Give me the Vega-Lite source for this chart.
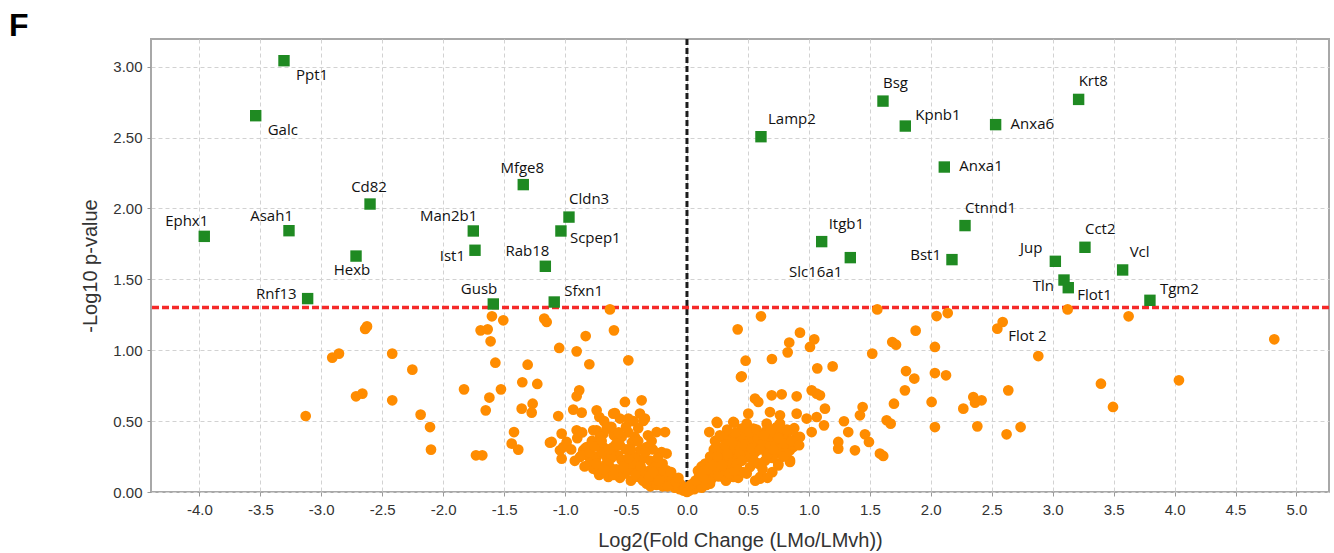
{
  "$schema": "https://vega.github.io/schema/vega-lite/v6.json",
  "width": 1178,
  "height": 453,
  "autosize": {"type": "none"},
  "padding": {"left": 151, "top": 39, "right": 5, "bottom": 61},
  "background": "white",
  "title": {"text": "F", "anchor": "start", "frame": "group", "font": "Liberation Sans", "fontSize": 32, "fontWeight": "bold", "color": "#000", "dx": -142, "dy": 33, "offset": 3, "baseline": "alphabetic"},
  "config": {
    "view": {"stroke": "#a8a8a8", "strokeWidth": 2},
    "axis": {"domain": false, "gridColor": "#d2d2d2", "gridDash": [4, 3], "gridWidth": 1, "tickColor": "#999", "tickSize": 4, "labelFont": "Liberation Sans", "labelFontSize": 15, "labelColor": "#333", "titleFont": "Liberation Sans", "titleFontSize": 20, "titleFontWeight": "normal", "titleColor": "#333"}
  },
  "datasets": {
    "sig": [
      {"gene": "Ppt1", "lfc": -3.306, "nlp": 3.042},
      {"gene": "Galc", "lfc": -3.538, "nlp": 2.654},
      {"gene": "Cd82", "lfc": -2.600, "nlp": 2.031},
      {"gene": "Ephx1", "lfc": -3.960, "nlp": 1.803},
      {"gene": "Asah1", "lfc": -3.265, "nlp": 1.843},
      {"gene": "Hexb", "lfc": -2.715, "nlp": 1.664},
      {"gene": "Rnf13", "lfc": -3.112, "nlp": 1.364},
      {"gene": "Man2b1", "lfc": -1.753, "nlp": 1.841},
      {"gene": "Ist1", "lfc": -1.739, "nlp": 1.705},
      {"gene": "Mfge8", "lfc": -1.343, "nlp": 2.168},
      {"gene": "Cldn3", "lfc": -0.968, "nlp": 1.939},
      {"gene": "Scpep1", "lfc": -1.034, "nlp": 1.841},
      {"gene": "Rab18", "lfc": -1.162, "nlp": 1.592},
      {"gene": "Gusb", "lfc": -1.589, "nlp": 1.326},
      {"gene": "Sfxn1", "lfc": -1.089, "nlp": 1.340},
      {"gene": "Lamp2", "lfc": 0.607, "nlp": 2.506},
      {"gene": "Itgb1", "lfc": 1.105, "nlp": 1.766},
      {"gene": "Slc16a1", "lfc": 1.340, "nlp": 1.653},
      {"gene": "Bsg", "lfc": 1.608, "nlp": 2.757},
      {"gene": "Kpnb1", "lfc": 1.791, "nlp": 2.581},
      {"gene": "Anxa1", "lfc": 2.111, "nlp": 2.292},
      {"gene": "Anxa6", "lfc": 2.532, "nlp": 2.591},
      {"gene": "Krt8", "lfc": 3.213, "nlp": 2.769},
      {"gene": "Ctnnd1", "lfc": 2.281, "nlp": 1.879},
      {"gene": "Bst1", "lfc": 2.174, "nlp": 1.639},
      {"gene": "Jup", "lfc": 3.022, "nlp": 1.627},
      {"gene": "Cct2", "lfc": 3.265, "nlp": 1.726},
      {"gene": "Vcl", "lfc": 3.574, "nlp": 1.566},
      {"gene": "Tln", "lfc": 3.093, "nlp": 1.495},
      {"gene": "Flot1", "lfc": 3.128, "nlp": 1.441},
      {"gene": "Tgm2", "lfc": 3.798, "nlp": 1.352}
    ],
    "ns": [
      {"lfc": -3.128, "nlp": 0.536}, {"lfc": -2.910, "nlp": 0.948}, {"lfc": -2.855, "nlp": 0.976}, {"lfc": -2.640, "nlp": 1.150}, {"lfc": -2.625, "nlp": 1.168},
      {"lfc": -2.418, "nlp": 0.976}, {"lfc": -2.253, "nlp": 0.863}, {"lfc": -2.715, "nlp": 0.675}, {"lfc": -2.663, "nlp": 0.694}, {"lfc": -2.418, "nlp": 0.647},
      {"lfc": -2.185, "nlp": 0.546}, {"lfc": -2.108, "nlp": 0.458}, {"lfc": -2.100, "nlp": 0.299}, {"lfc": -1.829, "nlp": 0.724}, {"lfc": -1.731, "nlp": 0.259},
      {"lfc": -1.679, "nlp": 0.259}, {"lfc": -1.693, "nlp": 1.140}, {"lfc": -1.635, "nlp": 1.147}, {"lfc": -1.600, "nlp": 1.239}, {"lfc": -1.507, "nlp": 1.211},
      {"lfc": -1.611, "nlp": 1.063}, {"lfc": -1.572, "nlp": 0.912}, {"lfc": -1.621, "nlp": 0.666}, {"lfc": -1.651, "nlp": 0.576}, {"lfc": -1.526, "nlp": 0.724},
      {"lfc": -1.351, "nlp": 0.774}, {"lfc": -1.307, "nlp": 0.898}, {"lfc": -1.228, "nlp": 0.762}, {"lfc": -1.356, "nlp": 0.588}, {"lfc": -1.266, "nlp": 0.623},
      {"lfc": -1.274, "nlp": 0.560}, {"lfc": -1.419, "nlp": 0.423}, {"lfc": -1.438, "nlp": 0.341}, {"lfc": -1.384, "nlp": 0.299}, {"lfc": -1.171, "nlp": 1.223},
      {"lfc": -1.151, "nlp": 1.199}, {"lfc": -1.048, "nlp": 1.016}, {"lfc": -1.056, "nlp": 0.536}, {"lfc": -1.124, "nlp": 0.348}, {"lfc": -0.831, "nlp": 1.100},
      {"lfc": -0.905, "nlp": 0.992}, {"lfc": -0.801, "nlp": 0.901}, {"lfc": -0.632, "nlp": 1.288}, {"lfc": -0.599, "nlp": 1.140}, {"lfc": -0.481, "nlp": 0.929},
      {"lfc": -0.884, "nlp": 0.717}, {"lfc": -0.905, "nlp": 0.675}, {"lfc": -0.933, "nlp": 0.581}, {"lfc": -0.864, "nlp": 0.560}, {"lfc": -1.028, "nlp": 0.412},
      {"lfc": -1.015, "nlp": 0.317}, {"lfc": -1.028, "nlp": 0.235}, {"lfc": -1.110, "nlp": 0.353}, {"lfc": -0.987, "nlp": 0.353}, {"lfc": -1.042, "nlp": 0.294},
      {"lfc": -0.741, "nlp": 0.576}, {"lfc": -0.719, "nlp": 0.529}, {"lfc": -0.741, "nlp": 0.435}, {"lfc": -0.686, "nlp": 0.412}, {"lfc": -0.659, "nlp": 0.447},
      {"lfc": -0.605, "nlp": 0.553}, {"lfc": -0.550, "nlp": 0.518}, {"lfc": -0.509, "nlp": 0.635}, {"lfc": -0.481, "nlp": 0.518}, {"lfc": -0.372, "nlp": 0.647},
      {"lfc": -0.345, "nlp": 0.518}, {"lfc": -0.386, "nlp": 0.553}, {"lfc": -0.591, "nlp": 0.557}, {"lfc": -0.358, "nlp": 0.501}, {"lfc": -0.249, "nlp": 0.423},
      {"lfc": -0.180, "nlp": 0.423}, {"lfc": -0.208, "nlp": 0.282}, {"lfc": -0.167, "nlp": 0.271}, {"lfc": -0.851, "nlp": 0.294}, {"lfc": -0.823, "nlp": 0.259},
      {"lfc": -0.769, "nlp": 0.247}, {"lfc": -0.741, "nlp": 0.153}, {"lfc": -0.905, "nlp": 0.435}, {"lfc": -0.878, "nlp": 0.247}, {"lfc": -0.837, "nlp": 0.306},
      {"lfc": -0.769, "nlp": 0.435}, {"lfc": -0.714, "nlp": 0.388}, {"lfc": -0.823, "nlp": 0.317}, {"lfc": -0.864, "nlp": 0.259}, {"lfc": -0.741, "nlp": 0.247},
      {"lfc": -0.769, "nlp": 0.165}, {"lfc": -0.645, "nlp": 0.106}, {"lfc": -0.632, "nlp": 0.176}, {"lfc": -0.605, "nlp": 0.294}, {"lfc": -0.536, "nlp": 0.388},
      {"lfc": -0.468, "nlp": 0.294}, {"lfc": -0.523, "nlp": 0.224}, {"lfc": -0.454, "nlp": 0.153}, {"lfc": -0.399, "nlp": 0.106}, {"lfc": -0.331, "nlp": 0.059},
      {"lfc": -0.386, "nlp": 0.200}, {"lfc": -0.331, "nlp": 0.317}, {"lfc": -0.304, "nlp": 0.153}, {"lfc": -0.249, "nlp": 0.106}, {"lfc": -0.221, "nlp": 0.176},
      {"lfc": -0.167, "nlp": 0.153}, {"lfc": -0.167, "nlp": 0.082}, {"lfc": -0.112, "nlp": 0.047}, {"lfc": -0.057, "nlp": 0.035}, {"lfc": -0.427, "nlp": 0.388},
      {"lfc": -0.687, "nlp": 0.317}, {"lfc": -0.564, "nlp": 0.259}, {"lfc": -0.509, "nlp": 0.130}, {"lfc": -0.659, "nlp": 0.247}, {"lfc": -0.605, "nlp": 0.317},
      {"lfc": -0.536, "nlp": 0.224}, {"lfc": -0.440, "nlp": 0.176}, {"lfc": -0.386, "nlp": 0.141}, {"lfc": -0.304, "nlp": 0.106}, {"lfc": -0.249, "nlp": 0.153},
      {"lfc": -0.167, "nlp": 0.118}, {"lfc": -0.112, "nlp": 0.082}, {"lfc": -0.057, "nlp": 0.059},
      {"lfc": -0.60, "nlp": 0.40}, {"lfc": -0.55, "nlp": 0.33}, {"lfc": -0.50, "nlp": 0.30}, {"lfc": -0.45, "nlp": 0.35}, {"lfc": -0.42, "nlp": 0.25},
      {"lfc": -0.38, "nlp": 0.30}, {"lfc": -0.35, "nlp": 0.24}, {"lfc": -0.30, "nlp": 0.22}, {"lfc": -0.28, "nlp": 0.30}, {"lfc": -0.26, "nlp": 0.18},
      {"lfc": -0.24, "nlp": 0.24}, {"lfc": -0.22, "nlp": 0.12}, {"lfc": -0.20, "nlp": 0.20}, {"lfc": -0.18, "nlp": 0.10}, {"lfc": -0.15, "nlp": 0.12},
      {"lfc": -0.14, "nlp": 0.06}, {"lfc": -0.12, "nlp": 0.09}, {"lfc": -0.10, "nlp": 0.03}, {"lfc": -0.08, "nlp": 0.05}, {"lfc": -0.06, "nlp": 0.02},
      {"lfc": -0.04, "nlp": 0.04}, {"lfc": -0.03, "nlp": 0.01}, {"lfc": -0.02, "nlp": 0.02}, {"lfc": 0.00, "nlp": 0.00}, {"lfc": -0.46, "nlp": 0.08},
      {"lfc": -0.42, "nlp": 0.12}, {"lfc": -0.36, "nlp": 0.08}, {"lfc": -0.34, "nlp": 0.14}, {"lfc": -0.30, "nlp": 0.04}, {"lfc": -0.27, "nlp": 0.07},
      {"lfc": -0.25, "nlp": 0.05}, {"lfc": -0.20, "nlp": 0.04}, {"lfc": -0.45, "nlp": 0.20}, {"lfc": -0.48, "nlp": 0.42}, {"lfc": -0.40, "nlp": 0.45},
      {"lfc": -0.32, "nlp": 0.40}, {"lfc": -0.29, "nlp": 0.36}, {"lfc": -0.62, "nlp": 0.24}, {"lfc": -0.66, "nlp": 0.20}, {"lfc": -0.58, "nlp": 0.16},
      {"lfc": -0.55, "nlp": 0.10}, {"lfc": -0.70, "nlp": 0.28}, {"lfc": -0.78, "nlp": 0.36}, {"lfc": -0.80, "nlp": 0.20}, {"lfc": -0.72, "nlp": 0.12},
      {"lfc": -0.50, "nlp": 0.46}, {"lfc": -0.44, "nlp": 0.50}, {"lfc": -0.62, "nlp": 0.46}, {"lfc": -0.68, "nlp": 0.50},
      {"lfc": -0.95, "nlp": 0.30}, {"lfc": -0.92, "nlp": 0.22}, {"lfc": -0.90, "nlp": 0.38}, {"lfc": -0.86, "nlp": 0.42}, {"lfc": -0.84, "nlp": 0.18},
      {"lfc": -0.80, "nlp": 0.28}, {"lfc": -0.76, "nlp": 0.32}, {"lfc": -0.74, "nlp": 0.20}, {"lfc": -0.70, "nlp": 0.36}, {"lfc": -0.68, "nlp": 0.16},
      {"lfc": -0.64, "nlp": 0.30}, {"lfc": -0.60, "nlp": 0.12}, {"lfc": -0.58, "nlp": 0.34}, {"lfc": -0.56, "nlp": 0.42}, {"lfc": -0.52, "nlp": 0.18},
      {"lfc": -0.48, "nlp": 0.24}, {"lfc": -0.46, "nlp": 0.30}, {"lfc": -0.40, "nlp": 0.36}, {"lfc": -0.38, "nlp": 0.18}, {"lfc": -0.34, "nlp": 0.28},
      {"lfc": -0.31, "nlp": 0.11}, {"lfc": -0.28, "nlp": 0.14}, {"lfc": -0.23, "nlp": 0.08}, {"lfc": -0.19, "nlp": 0.15}, {"lfc": -0.16, "nlp": 0.04},
      {"lfc": -0.13, "nlp": 0.14}, {"lfc": -0.09, "nlp": 0.07}, {"lfc": -0.07, "nlp": 0.10},
      {"lfc": 0.449, "nlp": 0.816}, {"lfc": 0.558, "nlp": 0.659}, {"lfc": 0.585, "nlp": 0.635}, {"lfc": 0.695, "nlp": 0.682}, {"lfc": 0.777, "nlp": 0.689},
      {"lfc": 0.900, "nlp": 0.675}, {"lfc": 1.023, "nlp": 0.717}, {"lfc": 1.064, "nlp": 0.694}, {"lfc": 1.091, "nlp": 0.682}, {"lfc": 0.244, "nlp": 0.494},
      {"lfc": 0.380, "nlp": 0.494}, {"lfc": 0.183, "nlp": 0.423}, {"lfc": 0.503, "nlp": 0.553}, {"lfc": 0.490, "nlp": 0.482}, {"lfc": 0.681, "nlp": 0.564},
      {"lfc": 0.763, "nlp": 0.541}, {"lfc": 0.900, "nlp": 0.553}, {"lfc": 0.982, "nlp": 0.518}, {"lfc": 1.064, "nlp": 0.529}, {"lfc": 1.023, "nlp": 0.423},
      {"lfc": 0.900, "nlp": 0.388}, {"lfc": 0.845, "nlp": 0.294}, {"lfc": 0.845, "nlp": 0.224}, {"lfc": 0.749, "nlp": 0.188}, {"lfc": 0.599, "nlp": 0.094},
      {"lfc": 0.599, "nlp": 0.200}, {"lfc": 0.607, "nlp": 1.239}, {"lfc": 0.416, "nlp": 1.147}, {"lfc": 0.481, "nlp": 0.926}, {"lfc": 0.443, "nlp": 0.811},
      {"lfc": 0.697, "nlp": 0.938}, {"lfc": 0.826, "nlp": 0.985}, {"lfc": 0.839, "nlp": 1.054}, {"lfc": 0.927, "nlp": 1.124}, {"lfc": 1.009, "nlp": 1.023},
      {"lfc": 1.044, "nlp": 1.077}, {"lfc": 1.069, "nlp": 0.872}, {"lfc": 1.195, "nlp": 0.886}, {"lfc": 1.132, "nlp": 0.588}, {"lfc": 1.124, "nlp": 0.470},
      {"lfc": 1.561, "nlp": 1.288}, {"lfc": 1.520, "nlp": 0.976}, {"lfc": 1.684, "nlp": 1.058}, {"lfc": 1.715, "nlp": 1.039}, {"lfc": 1.876, "nlp": 1.138},
      {"lfc": 1.797, "nlp": 0.853}, {"lfc": 1.865, "nlp": 0.800}, {"lfc": 1.788, "nlp": 0.717}, {"lfc": 1.698, "nlp": 0.623}, {"lfc": 1.638, "nlp": 0.506},
      {"lfc": 1.671, "nlp": 0.482}, {"lfc": 1.441, "nlp": 0.599}, {"lfc": 1.419, "nlp": 0.541}, {"lfc": 1.288, "nlp": 0.499}, {"lfc": 1.323, "nlp": 0.423},
      {"lfc": 1.241, "nlp": 0.353}, {"lfc": 1.241, "nlp": 0.306}, {"lfc": 1.378, "nlp": 0.294}, {"lfc": 1.460, "nlp": 0.407}, {"lfc": 1.493, "nlp": 0.353},
      {"lfc": 1.583, "nlp": 0.271}, {"lfc": 1.610, "nlp": 0.254}, {"lfc": 2.048, "nlp": 1.241}, {"lfc": 2.139, "nlp": 1.262}, {"lfc": 2.034, "nlp": 1.023},
      {"lfc": 2.034, "nlp": 0.839}, {"lfc": 2.125, "nlp": 0.823}, {"lfc": 2.007, "nlp": 0.635}, {"lfc": 2.034, "nlp": 0.458}, {"lfc": 2.267, "nlp": 0.588},
      {"lfc": 2.349, "nlp": 0.670}, {"lfc": 2.363, "nlp": 0.630}, {"lfc": 2.417, "nlp": 0.647}, {"lfc": 2.382, "nlp": 0.463}, {"gene": "Flot 2", "lfc": 2.546, "nlp": 1.152},
      {"lfc": 2.590, "nlp": 1.199}, {"lfc": 2.636, "nlp": 0.717}, {"lfc": 2.622, "nlp": 0.407}, {"lfc": 2.737, "nlp": 0.458}, {"lfc": 2.882, "nlp": 0.959},
      {"lfc": 3.123, "nlp": 1.288}, {"lfc": 3.623, "nlp": 1.239}, {"lfc": 3.396, "nlp": 0.764}, {"lfc": 3.495, "nlp": 0.600}, {"lfc": 4.036, "nlp": 0.788},
      {"lfc": 4.818, "nlp": 1.077},
      {"lfc": 0.052, "nlp": 0.059}, {"lfc": 0.107, "nlp": 0.082}, {"lfc": 0.161, "nlp": 0.106}, {"lfc": 0.189, "nlp": 0.176}, {"lfc": 0.216, "nlp": 0.247},
      {"lfc": 0.244, "nlp": 0.317}, {"lfc": 0.271, "nlp": 0.153}, {"lfc": 0.326, "nlp": 0.224}, {"lfc": 0.353, "nlp": 0.317}, {"lfc": 0.408, "nlp": 0.365},
      {"lfc": 0.408, "nlp": 0.176}, {"lfc": 0.462, "nlp": 0.271}, {"lfc": 0.490, "nlp": 0.388}, {"lfc": 0.517, "nlp": 0.176}, {"lfc": 0.572, "nlp": 0.317},
      {"lfc": 0.599, "nlp": 0.412}, {"lfc": 0.654, "nlp": 0.271}, {"lfc": 0.708, "nlp": 0.365}, {"lfc": 0.736, "nlp": 0.458}, {"lfc": 0.818, "nlp": 0.388},
      {"lfc": 0.736, "nlp": 0.271}, {"lfc": 0.298, "nlp": 0.106}, {"lfc": 0.189, "nlp": 0.059}, {"lfc": 0.380, "nlp": 0.106}, {"lfc": 0.490, "nlp": 0.130},
      {"lfc": 0.134, "nlp": 0.153}, {"lfc": 0.544, "nlp": 0.447}, {"lfc": 0.449, "nlp": 0.447}, {"lfc": 0.654, "nlp": 0.482}, {"lfc": 0.872, "nlp": 0.317},
      {"lfc": 0.927, "nlp": 0.388}, {"lfc": 0.544, "nlp": 0.412}, {"lfc": 0.654, "nlp": 0.435}, {"lfc": 0.763, "nlp": 0.482}, {"lfc": 0.790, "nlp": 0.412},
      {"lfc": 0.845, "nlp": 0.435}, {"lfc": 0.681, "nlp": 0.282}, {"lfc": 0.749, "nlp": 0.200}, {"lfc": 0.845, "nlp": 0.212}, {"lfc": 0.818, "nlp": 0.271},
      {"lfc": 0.599, "nlp": 0.106}, {"lfc": 0.585, "nlp": 0.200}, {"lfc": 0.490, "nlp": 0.247}, {"lfc": 0.249, "nlp": 0.487}, {"lfc": 0.386, "nlp": 0.489},
      {"lfc": 0.02, "nlp": 0.01}, {"lfc": 0.04, "nlp": 0.03}, {"lfc": 0.06, "nlp": 0.02}, {"lfc": 0.08, "nlp": 0.04}, {"lfc": 0.10, "nlp": 0.06},
      {"lfc": 0.12, "nlp": 0.03}, {"lfc": 0.14, "nlp": 0.08}, {"lfc": 0.16, "nlp": 0.05}, {"lfc": 0.18, "nlp": 0.12}, {"lfc": 0.20, "nlp": 0.09},
      {"lfc": 0.22, "nlp": 0.14}, {"lfc": 0.24, "nlp": 0.20}, {"lfc": 0.26, "nlp": 0.11}, {"lfc": 0.28, "nlp": 0.24}, {"lfc": 0.30, "nlp": 0.28},
      {"lfc": 0.32, "nlp": 0.15}, {"lfc": 0.34, "nlp": 0.20}, {"lfc": 0.36, "nlp": 0.26}, {"lfc": 0.38, "nlp": 0.22}, {"lfc": 0.40, "nlp": 0.30},
      {"lfc": 0.42, "nlp": 0.24}, {"lfc": 0.44, "nlp": 0.33}, {"lfc": 0.46, "nlp": 0.38}, {"lfc": 0.48, "nlp": 0.30}, {"lfc": 0.50, "nlp": 0.34},
      {"lfc": 0.52, "nlp": 0.26}, {"lfc": 0.54, "nlp": 0.36}, {"lfc": 0.56, "nlp": 0.28}, {"lfc": 0.58, "nlp": 0.38}, {"lfc": 0.62, "nlp": 0.34},
      {"lfc": 0.64, "nlp": 0.22}, {"lfc": 0.66, "nlp": 0.38}, {"lfc": 0.68, "nlp": 0.32}, {"lfc": 0.70, "nlp": 0.24}, {"lfc": 0.72, "nlp": 0.42},
      {"lfc": 0.74, "nlp": 0.34}, {"lfc": 0.76, "nlp": 0.30}, {"lfc": 0.78, "nlp": 0.44}, {"lfc": 0.80, "nlp": 0.34}, {"lfc": 0.86, "nlp": 0.36},
      {"lfc": 0.88, "nlp": 0.45}, {"lfc": 0.36, "nlp": 0.40}, {"lfc": 0.30, "nlp": 0.38}, {"lfc": 0.26, "nlp": 0.30}, {"lfc": 0.22, "nlp": 0.30},
      {"lfc": 0.12, "nlp": 0.18}, {"lfc": 0.10, "nlp": 0.12}, {"lfc": 0.32, "nlp": 0.08}, {"lfc": 0.42, "nlp": 0.10}, {"lfc": 0.46, "nlp": 0.14},
      {"lfc": 0.70, "nlp": 0.14}, {"lfc": 0.66, "nlp": 0.10}, {"lfc": 0.56, "nlp": 0.08}, {"lfc": 0.62, "nlp": 0.16}, {"lfc": 0.40, "nlp": 0.42},
      {"lfc": 0.33, "nlp": 0.44},
      {"lfc": 0.03, "nlp": 0.05}, {"lfc": 0.07, "nlp": 0.08}, {"lfc": 0.09, "nlp": 0.15}, {"lfc": 0.13, "nlp": 0.11}, {"lfc": 0.15, "nlp": 0.20},
      {"lfc": 0.17, "nlp": 0.16}, {"lfc": 0.19, "nlp": 0.25}, {"lfc": 0.21, "nlp": 0.19}, {"lfc": 0.23, "nlp": 0.36}, {"lfc": 0.25, "nlp": 0.25},
      {"lfc": 0.27, "nlp": 0.40}, {"lfc": 0.29, "nlp": 0.19}, {"lfc": 0.31, "nlp": 0.33}, {"lfc": 0.33, "nlp": 0.27}, {"lfc": 0.35, "nlp": 0.13},
      {"lfc": 0.37, "nlp": 0.35}, {"lfc": 0.39, "nlp": 0.15}, {"lfc": 0.41, "nlp": 0.20}, {"lfc": 0.43, "nlp": 0.28}, {"lfc": 0.45, "nlp": 0.22},
      {"lfc": 0.47, "nlp": 0.33}, {"lfc": 0.51, "nlp": 0.42}, {"lfc": 0.53, "nlp": 0.31}, {"lfc": 0.55, "nlp": 0.22}, {"lfc": 0.57, "nlp": 0.44},
      {"lfc": 0.60, "nlp": 0.30}, {"lfc": 0.63, "nlp": 0.40}, {"lfc": 0.67, "nlp": 0.27}, {"lfc": 0.69, "nlp": 0.44}, {"lfc": 0.71, "nlp": 0.30},
      {"lfc": 0.75, "nlp": 0.38}, {"lfc": 0.79, "nlp": 0.25}, {"lfc": 0.82, "nlp": 0.44}, {"lfc": 0.92, "nlp": 0.33}
    ]
  },
  "layer": [
    {
      "data": {"values": [{"lfc": 0}]},
      "mark": {"type": "rule", "color": "#1c1c1c", "strokeWidth": 3, "strokeDash": [6, 3]},
      "encoding": {"x": {"field": "lfc", "type": "quantitative", "scale": {"domain": [-4.397, 5.267], "nice": false, "zero": false}}}
    },
    {
      "data": {"values": [{"nlp": 1.301}]},
      "mark": {"type": "rule", "color": "#f52a2a", "strokeWidth": 3.5, "strokeDash": [7, 3]},
      "encoding": {"y": {"field": "nlp", "type": "quantitative", "scale": {"domain": [0, 3.195], "nice": false}}}
    },
    {
      "data": {"name": "ns"},
      "mark": {"type": "circle", "color": "#ff8c00", "opacity": 1, "size": 115},
      "encoding": {
        "x": {"field": "lfc", "type": "quantitative", "scale": {"domain": [-4.397, 5.267], "nice": false, "zero": false},
          "axis": {"values": [-4, -3.5, -3, -2.5, -2, -1.5, -1, -0.5, 0, 0.5, 1, 1.5, 2, 2.5, 3, 3.5, 4, 4.5, 5], "labelExpr": "replace(format(datum.value, '.1f'), '\u2212', '-')", "title": "Log2(Fold Change (LMo/LMvh))", "labelPadding": 6, "titlePadding": 13}},
        "y": {"field": "nlp", "type": "quantitative", "scale": {"domain": [0, 3.195], "nice": false},
          "axis": {"values": [0, 0.25, 0.5, 0.75, 1, 1.25, 1.5, 1.75, 2, 2.25, 2.5, 2.75, 3], "format": ".2f", "title": "-Log10 p-value", "labelPadding": 5, "titlePadding": 12}}
      }
    },
    {
      "data": {"name": "sig"},
      "mark": {"type": "square", "color": "#1f8a22", "opacity": 1, "size": 130},
      "encoding": {
        "x": {"field": "lfc", "type": "quantitative"},
        "y": {"field": "nlp", "type": "quantitative"}
      }
    },
    {
      "data": {"name": "sig"},
      "transform": [{"filter": {"field": "gene", "oneOf": ["Cldn3", "Ctnnd1", "Bsg", "Krt8", "Cct2"]}}],
      "mark": {"type": "text", "align": "left", "baseline": "middle", "dx": 0, "dy": -18, "font": "Open Sans", "fontSize": 15, "color": "#111"},
      "encoding": {"x": {"field": "lfc", "type": "quantitative"}, "y": {"field": "nlp", "type": "quantitative"}, "text": {"field": "gene"}}
    },
    {
      "data": {"name": "sig"},
      "transform": [{"filter": {"field": "gene", "oneOf": ["Lamp2", "Itgb1", "Vcl"]}}],
      "mark": {"type": "text", "align": "left", "baseline": "middle", "dx": 7, "dy": -18, "font": "Open Sans", "fontSize": 15, "color": "#111"},
      "encoding": {"x": {"field": "lfc", "type": "quantitative"}, "y": {"field": "nlp", "type": "quantitative"}, "text": {"field": "gene"}}
    },
    {
      "data": {"name": "sig"},
      "transform": [{"filter": {"field": "gene", "oneOf": ["Kpnb1", "Tgm2", "Sfxn1"]}}],
      "mark": {"type": "text", "align": "left", "baseline": "middle", "dx": 10, "dy": -11, "font": "Open Sans", "fontSize": 15, "color": "#111"},
      "encoding": {"x": {"field": "lfc", "type": "quantitative"}, "y": {"field": "nlp", "type": "quantitative"}, "text": {"field": "gene"}}
    },
    {
      "data": {"name": "sig"},
      "transform": [{"filter": {"field": "gene", "oneOf": ["Anxa6", "Anxa1"]}}],
      "mark": {"type": "text", "align": "left", "baseline": "middle", "dx": 15, "dy": -1, "font": "Open Sans", "fontSize": 15, "color": "#111"},
      "encoding": {"x": {"field": "lfc", "type": "quantitative"}, "y": {"field": "nlp", "type": "quantitative"}, "text": {"field": "gene"}}
    },
    {
      "data": {"name": "sig"},
      "transform": [{"filter": {"field": "gene", "oneOf": ["Ppt1", "Galc"]}}],
      "mark": {"type": "text", "align": "left", "baseline": "middle", "dx": 12, "dy": 14, "font": "Open Sans", "fontSize": 15, "color": "#111"},
      "encoding": {"x": {"field": "lfc", "type": "quantitative"}, "y": {"field": "nlp", "type": "quantitative"}, "text": {"field": "gene"}}
    },
    {
      "data": {"name": "sig"},
      "transform": [{"filter": {"field": "gene", "oneOf": ["Scpep1", "Flot1"]}}],
      "mark": {"type": "text", "align": "left", "baseline": "middle", "dx": 9, "dy": 7, "font": "Open Sans", "fontSize": 15, "color": "#111"},
      "encoding": {"x": {"field": "lfc", "type": "quantitative"}, "y": {"field": "nlp", "type": "quantitative"}, "text": {"field": "gene"}}
    },
    {
      "data": {"name": "ns"},
      "transform": [{"filter": {"field": "gene", "oneOf": ["Flot 2"]}}],
      "mark": {"type": "text", "align": "left", "baseline": "middle", "dx": 11, "dy": 7, "font": "Open Sans", "fontSize": 15, "color": "#111"},
      "encoding": {"x": {"field": "lfc", "type": "quantitative"}, "y": {"field": "nlp", "type": "quantitative"}, "text": {"field": "gene"}}
    },
    {
      "data": {"name": "sig"},
      "transform": [{"filter": {"field": "gene", "oneOf": ["Ephx1", "Asah1", "Man2b1", "Rab18", "Gusb"]}}],
      "mark": {"type": "text", "align": "right", "baseline": "middle", "dx": 4, "dy": -15, "font": "Open Sans", "fontSize": 15, "color": "#111"},
      "encoding": {"x": {"field": "lfc", "type": "quantitative"}, "y": {"field": "nlp", "type": "quantitative"}, "text": {"field": "gene"}}
    },
    {
      "data": {"name": "sig"},
      "transform": [{"filter": {"field": "gene", "oneOf": ["Cd82", "Mfge8"]}}],
      "mark": {"type": "text", "align": "center", "baseline": "middle", "dx": -1, "dy": -17, "font": "Open Sans", "fontSize": 15, "color": "#111"},
      "encoding": {"x": {"field": "lfc", "type": "quantitative"}, "y": {"field": "nlp", "type": "quantitative"}, "text": {"field": "gene"}}
    },
    {
      "data": {"name": "sig"},
      "transform": [{"filter": {"field": "gene", "oneOf": ["Rnf13", "Bst1"]}}],
      "mark": {"type": "text", "align": "right", "baseline": "middle", "dx": -11, "dy": -5, "font": "Open Sans", "fontSize": 15, "color": "#111"},
      "encoding": {"x": {"field": "lfc", "type": "quantitative"}, "y": {"field": "nlp", "type": "quantitative"}, "text": {"field": "gene"}}
    },
    {
      "data": {"name": "sig"},
      "transform": [{"filter": {"field": "gene", "oneOf": ["Jup"]}}],
      "mark": {"type": "text", "align": "right", "baseline": "middle", "dx": -13, "dy": -13, "font": "Open Sans", "fontSize": 15, "color": "#111"},
      "encoding": {"x": {"field": "lfc", "type": "quantitative"}, "y": {"field": "nlp", "type": "quantitative"}, "text": {"field": "gene"}}
    },
    {
      "data": {"name": "sig"},
      "transform": [{"filter": {"field": "gene", "oneOf": ["Tln", "Ist1"]}}],
      "mark": {"type": "text", "align": "right", "baseline": "middle", "dx": -10, "dy": 6, "font": "Open Sans", "fontSize": 15, "color": "#111"},
      "encoding": {"x": {"field": "lfc", "type": "quantitative"}, "y": {"field": "nlp", "type": "quantitative"}, "text": {"field": "gene"}}
    },
    {
      "data": {"name": "sig"},
      "transform": [{"filter": {"field": "gene", "oneOf": ["Hexb"]}}],
      "mark": {"type": "text", "align": "center", "baseline": "middle", "dx": -4, "dy": 14, "font": "Open Sans", "fontSize": 15, "color": "#111"},
      "encoding": {"x": {"field": "lfc", "type": "quantitative"}, "y": {"field": "nlp", "type": "quantitative"}, "text": {"field": "gene"}}
    },
    {
      "data": {"name": "sig"},
      "transform": [{"filter": {"field": "gene", "oneOf": ["Slc16a1"]}}],
      "mark": {"type": "text", "align": "right", "baseline": "middle", "dx": -8, "dy": 14, "font": "Open Sans", "fontSize": 15, "color": "#111"},
      "encoding": {"x": {"field": "lfc", "type": "quantitative"}, "y": {"field": "nlp", "type": "quantitative"}, "text": {"field": "gene"}}
    }
  ]
}
